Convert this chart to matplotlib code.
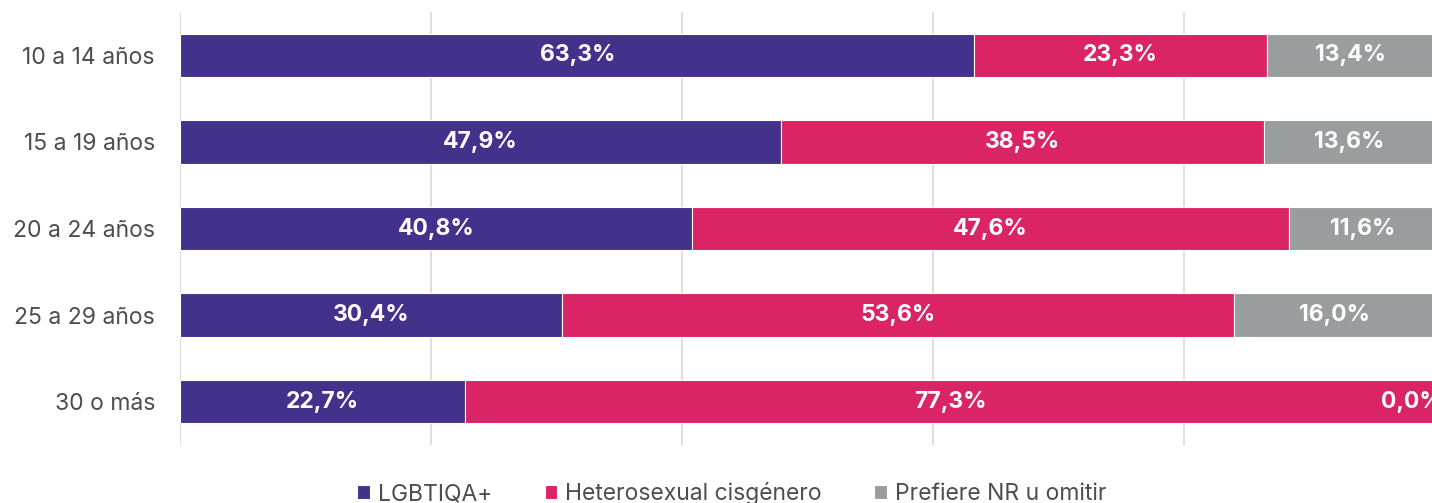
import numpy as np
import matplotlib
matplotlib.use("Agg")
import matplotlib.pyplot as plt

# data
grupos = ["10 a 14 años", "15 a 19 años", "20 a 24 años", "25 a 29 años", "30 o más"]
lgbtiqa = [63.3, 47.9, 40.8, 30.4, 22.7]
hetero_cis = [23.3, 38.5, 47.6, 53.6, 77.3]
prefiere_nr = [13.4, 13.6, 11.6, 16.0, 0.0]

series_names = ["LGBTIQA+", "Heterosexual cisgénero", "Prefiere NR u omitir"]
colores = ["#44318b", "#db2465", "#9a9d9e"]

plt.rcParams["font.family"] = ["Inter", "DejaVu Sans"]

fig = plt.figure(figsize=(14.32, 5.03), dpi=100)
ax = fig.add_axes([180 / 1432, 58 / 503, 1255 / 1432, 433 / 503])

y = np.arange(len(grupos))
left = np.zeros(len(grupos))
handles = []
for vals, name, col in zip([lgbtiqa, hetero_cis, prefiere_nr], series_names, colores):
    vals = np.array(vals)
    b = ax.barh(y, vals, left=left, height=0.5, color=col, edgecolor="white",
                linewidth=0.8, label=name, zorder=3)
    handles.append(b)
    for yi, l, v in zip(y, left, vals):
        txt = f"{v:.1f}%".replace(".", ",")
        if v > 0:
            ax.text(l + v / 2, yi, txt, ha="center", va="center", color="white",
                    fontsize=16.5, fontweight="bold", zorder=4)
        else:
            # zero segment: label sits at the bar end (cut off, like the original)
            ax.text(l + 0.6, yi, txt, ha="right", va="center", color="white",
                    fontsize=16.5, fontweight="bold", zorder=4)
    left = left + vals

ax.set_xlim(0, 100)
ax.set_ylim(len(grupos) - 0.5, -0.5)
ax.set_xticks([0, 20, 40, 60, 80])
ax.set_xticklabels([])
ax.set_yticks(y)
ax.set_yticklabels(grupos, fontsize=16.5, color="#4d4d4d")
ax.tick_params(axis="both", length=0)
ax.tick_params(axis="y", pad=18)
ax.grid(axis="x", color="#dcdcdc", linewidth=1.3, zorder=0)
for s in ax.spines.values():
    s.set_visible(False)

leg = fig.legend(handles=handles, labels=series_names, loc="lower center",
                 bbox_to_anchor=(0.511, -0.045), ncol=3, frameon=False,
                 fontsize=16.5, handlelength=0.55, handleheight=0.55,
                 handletextpad=0.35, columnspacing=2.3)
for t in leg.get_texts():
    t.set_color("#4d4d4d")

fig.savefig("out.png", dpi=100)
